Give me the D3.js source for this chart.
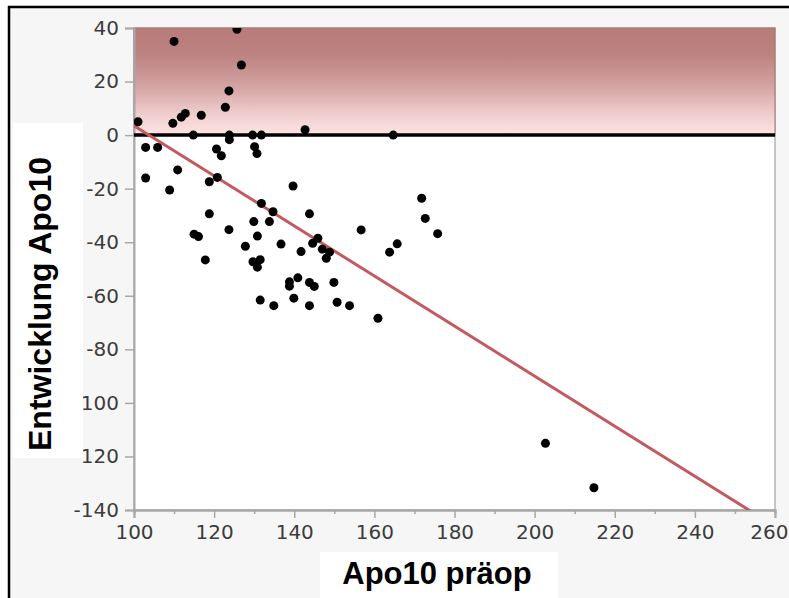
<!DOCTYPE html>
<html>
<head>
<meta charset="utf-8">
<script src="https://cdn.jsdelivr.net/npm/d3@7"></script>
<style>
  body { margin: 0; background: #fff; }
  svg { display: block; }
  .tick text { font-family: "DejaVu Sans", sans-serif; font-size: 20px; fill: #3c3c3c; }
  .title { font-family: "Liberation Sans", Arial, sans-serif; font-weight: bold; fill: #000; }
</style>
</head>
<body>
<div id="chart"></div>
<script>
// Apo10 before operation (x) vs change of Apo10 (y)
var preOp = [
  101, 110, 109.7, 111.8, 112.8, 116.8, 122.8, 123.7, 125.7, 126.8,
  114.8, 123.8, 129.6, 131.8, 142.7, 164.7, 123.8,
  102.9, 105.9, 120.6, 121.8, 130.1, 130.7, 102.9, 110.9, 108.9,
  118.8, 120.8, 118.8, 123.7, 115, 116.1, 117.8, 127.8, 129.9, 130.8,
  129.7, 131.5, 130.8, 131.8, 134.7, 133.8, 139.7, 143.8, 136.7, 141.7,
  144.6, 145.9, 147, 148, 148.8, 156.7, 138.8, 140.9, 138.8, 143.8,
  145, 149.9, 131.5, 134.9, 139.9, 143.8, 150.7, 153.8, 160.9, 163.8,
  165.7, 171.8, 172.7, 175.8, 202.7, 214.8
];
var change = [
  5, 35, 4.4, 6.7, 8.1, 7.4, 10.4, 16.5, 39.5, 26.2,
  0, 0, 0, 0, 2, 0, -1.7,
  -4.6, -4.6, -5.2, -7.7, -4.3, -6.9, -16, -13, -20.5,
  -17.4, -15.8, -29.4, -35.3, -37, -37.9, -46.6, -41.5, -32.3, -37.7,
  -47.3, -46.5, -49.3, -25.5, -28.6, -32.3, -19, -29.4, -40.7, -43.5,
  -40.4, -38.5, -42.6, -46, -43.7, -35.4, -54.8, -53.3, -56.4, -55,
  -56.5, -55, -61.6, -63.7, -60.9, -63.7, -62.4, -63.7, -68.4, -43.7,
  -40.6, -23.6, -31.1, -36.8, -115.1, -131.7
];
var xTicks = [100, 120, 140, 160, 180, 200, 220, 240, 260];
var xMinorTicks = [110, 130, 150, 170, 190, 210, 230, 250];
var yTicks = [40, 20, 0, -20, -40, -60, -80, -100, -120, -140];
// fitted line: value at x=100 and slope
var fitAt100 = 3.5;
var fitSlope = -0.935;

var svgWidth = 789;
var svgHeight = 598;
var margin = { top: 28, right: 14, bottom: 88, left: 134 };
var width = svgWidth - margin.left - margin.right;
var height = svgHeight - margin.top - margin.bottom;

var svg = d3.select("#chart").append("svg")
  .attr("width", svgWidth)
  .attr("height", svgHeight);

// outer frame
svg.append("rect")
  .attr("x", 9).attr("y", 7)
  .attr("width", 820).attr("height", 620)
  .attr("fill", "#f6f6f6")
  .attr("stroke", "#000")
  .attr("stroke-width", 2.5);

var xScale = d3.scaleLinear().domain([100, 260]).range([0, width]);
var yScale = d3.scaleLinear().domain([-140, 40]).range([height, 0]);

var chartGroup = svg.append("g")
  .attr("transform", `translate(${margin.left}, ${margin.top})`);

// gradient for the band above zero
var grad = svg.append("defs").append("linearGradient")
  .attr("id", "band").attr("x1", 0).attr("y1", 0).attr("x2", 0).attr("y2", 1);
[["0%", "#b87c7a"], ["25%", "#bb8280"], ["55%", "#d4a4a3"], ["80%", "#f0cdcd"], ["100%", "#fde3e3"]]
  .forEach(function(s) { grad.append("stop").attr("offset", s[0]).attr("stop-color", s[1]); });

svg.select("defs").append("clipPath").attr("id", "plotclip")
  .append("rect").attr("width", width).attr("height", height);

chartGroup.append("rect")
  .attr("width", width).attr("height", height)
  .attr("fill", "#fff")
  .attr("stroke", "#b4b4b4")
  .attr("stroke-width", 1.5);

chartGroup.append("rect")
  .attr("x", 0).attr("y", yScale(40))
  .attr("width", width).attr("height", yScale(0) - yScale(40))
  .attr("fill", "url(#band)")
  .attr("stroke", "#a97170")
  .attr("stroke-width", 1);

// axes
var bottomAxis = d3.axisBottom(xScale).tickValues(xTicks).tickSize(8).tickPadding(7).tickFormat(d => String(d));
var minorAxis = d3.axisBottom(xScale).tickValues(xMinorTicks).tickSize(4).tickFormat("");
var leftAxis = d3.axisLeft(yScale).tickValues(yTicks).tickSize(9).tickPadding(6).tickFormat(d => String(d));

var xAxis = chartGroup.append("g")
  .attr("transform", `translate(0, ${height})`)
  .call(bottomAxis);
chartGroup.append("g")
  .attr("transform", `translate(0, ${height})`)
  .call(minorAxis);
var yAxis = chartGroup.append("g").call(leftAxis);

// last x label sits against the right edge, keep it inside the page
xAxis.selectAll(".tick text")
  .filter(d => d === 260)
  .attr("text-anchor", "end")
  .attr("x", margin.right - 1);

chartGroup.selectAll(".domain").attr("stroke", "#a8a8a8").attr("stroke-width", 2);
chartGroup.selectAll(".tick line").attr("stroke", "#a8a8a8").attr("stroke-width", 1.5);

// zero line
chartGroup.append("line")
  .attr("x1", 0).attr("x2", width)
  .attr("y1", yScale(0)).attr("y2", yScale(0))
  .attr("stroke", "#000")
  .attr("stroke-width", 3.5);

// fitted line
var plot = chartGroup.append("g").attr("clip-path", "url(#plotclip)");
plot.append("line")
  .attr("x1", xScale(100)).attr("y1", yScale(fitAt100))
  .attr("x2", xScale(260)).attr("y2", yScale(fitAt100 + fitSlope * 160))
  .attr("stroke", "#c25a5f")
  .attr("stroke-width", 3);

// points
plot.selectAll("circle")
  .data(preOp)
  .enter()
  .append("circle")
  .attr("cx", d => xScale(d))
  .attr("cy", (d, i) => yScale(change[i]))
  .attr("r", 4.5)
  .attr("fill", "#000");

// white label boxes (cover part of the tick labels, as in the original)
svg.append("rect").attr("x", 13).attr("y", 123).attr("width", 70).attr("height", 335).attr("fill", "#fff");
svg.append("rect").attr("x", 320).attr("y", 552).attr("width", 238).attr("height", 50).attr("fill", "#fff");

svg.append("text")
  .attr("class", "title")
  .attr("transform", "translate(51, 304) rotate(-90)")
  .attr("text-anchor", "middle")
  .style("font-size", "32px")
  .text("Entwicklung Apo10");

svg.append("text")
  .attr("class", "title")
  .attr("x", 437).attr("y", 584)
  .attr("text-anchor", "middle")
  .style("font-size", "31px")
  .text("Apo10 präop");
</script>
</body>
</html>
